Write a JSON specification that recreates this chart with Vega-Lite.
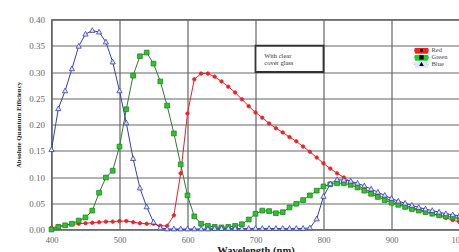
{
  "$schema": "https://vega.github.io/schema/vega-lite/v6.json",
  "width": 408,
  "height": 210,
  "autosize": {"type": "none"},
  "padding": {"left": 51.5, "top": 19.5, "right": 0, "bottom": 22.5},
  "background": "white",
  "config": {
    "view": {"stroke": "#444444", "strokeWidth": 1.2},
    "legend": {
      "labelFont": "Liberation Serif",
      "labelFontSize": 6.5,
      "labelColor": "#444444"
    }
  },
  "datasets": {
    "qe": [
      {"w":400,"s":"Red","v":0.003},{"w":410,"s":"Red","v":0.006},{"w":420,"s":"Red","v":0.008},{"w":430,"s":"Red","v":0.010},{"w":440,"s":"Red","v":0.011},{"w":450,"s":"Red","v":0.012},{"w":460,"s":"Red","v":0.013},{"w":470,"s":"Red","v":0.014},{"w":480,"s":"Red","v":0.015},{"w":490,"s":"Red","v":0.015},{"w":500,"s":"Red","v":0.016},{"w":510,"s":"Red","v":0.016},{"w":520,"s":"Red","v":0.014},{"w":530,"s":"Red","v":0.012},{"w":540,"s":"Red","v":0.011},{"w":550,"s":"Red","v":0.011},{"w":560,"s":"Red","v":0.007},{"w":570,"s":"Red","v":0.007},{"w":580,"s":"Red","v":0.027},{"w":590,"s":"Red","v":0.107},{"w":600,"s":"Red","v":0.221},{"w":610,"s":"Red","v":0.286},{"w":620,"s":"Red","v":0.297},{"w":630,"s":"Red","v":0.297},{"w":640,"s":"Red","v":0.291},{"w":650,"s":"Red","v":0.282},{"w":660,"s":"Red","v":0.272},{"w":670,"s":"Red","v":0.261},{"w":680,"s":"Red","v":0.248},{"w":690,"s":"Red","v":0.235},{"w":700,"s":"Red","v":0.223},{"w":710,"s":"Red","v":0.213},{"w":720,"s":"Red","v":0.202},{"w":730,"s":"Red","v":0.193},{"w":740,"s":"Red","v":0.185},{"w":750,"s":"Red","v":0.176},{"w":760,"s":"Red","v":0.168},{"w":770,"s":"Red","v":0.158},{"w":780,"s":"Red","v":0.148},{"w":790,"s":"Red","v":0.137},{"w":800,"s":"Red","v":0.126},{"w":810,"s":"Red","v":0.116},{"w":820,"s":"Red","v":0.107},{"w":830,"s":"Red","v":0.099},{"w":840,"s":"Red","v":0.091},{"w":850,"s":"Red","v":0.084},{"w":860,"s":"Red","v":0.077},{"w":870,"s":"Red","v":0.071},{"w":880,"s":"Red","v":0.065},{"w":890,"s":"Red","v":0.060},{"w":900,"s":"Red","v":0.055},{"w":910,"s":"Red","v":0.050},{"w":920,"s":"Red","v":0.046},{"w":930,"s":"Red","v":0.042},{"w":940,"s":"Red","v":0.038},{"w":950,"s":"Red","v":0.034},{"w":960,"s":"Red","v":0.030},{"w":970,"s":"Red","v":0.026},{"w":980,"s":"Red","v":0.022},{"w":990,"s":"Red","v":0.018},{"w":1000,"s":"Red","v":0.014},
      {"w":400,"s":"Green","v":0.000},{"w":410,"s":"Green","v":0.005},{"w":420,"s":"Green","v":0.008},{"w":430,"s":"Green","v":0.011},{"w":440,"s":"Green","v":0.017},{"w":450,"s":"Green","v":0.023},{"w":460,"s":"Green","v":0.036},{"w":470,"s":"Green","v":0.070},{"w":480,"s":"Green","v":0.099},{"w":490,"s":"Green","v":0.112},{"w":500,"s":"Green","v":0.158},{"w":510,"s":"Green","v":0.229},{"w":520,"s":"Green","v":0.293},{"w":530,"s":"Green","v":0.330},{"w":540,"s":"Green","v":0.337},{"w":550,"s":"Green","v":0.316},{"w":560,"s":"Green","v":0.282},{"w":570,"s":"Green","v":0.236},{"w":580,"s":"Green","v":0.183},{"w":590,"s":"Green","v":0.124},{"w":600,"s":"Green","v":0.065},{"w":610,"s":"Green","v":0.025},{"w":620,"s":"Green","v":0.011},{"w":630,"s":"Green","v":0.007},{"w":640,"s":"Green","v":0.005},{"w":650,"s":"Green","v":0.004},{"w":660,"s":"Green","v":0.005},{"w":670,"s":"Green","v":0.007},{"w":680,"s":"Green","v":0.010},{"w":690,"s":"Green","v":0.019},{"w":700,"s":"Green","v":0.030},{"w":710,"s":"Green","v":0.036},{"w":720,"s":"Green","v":0.035},{"w":730,"s":"Green","v":0.031},{"w":740,"s":"Green","v":0.033},{"w":750,"s":"Green","v":0.042},{"w":760,"s":"Green","v":0.049},{"w":770,"s":"Green","v":0.056},{"w":780,"s":"Green","v":0.065},{"w":790,"s":"Green","v":0.074},{"w":800,"s":"Green","v":0.082},{"w":810,"s":"Green","v":0.086},{"w":820,"s":"Green","v":0.088},{"w":830,"s":"Green","v":0.088},{"w":840,"s":"Green","v":0.085},{"w":850,"s":"Green","v":0.080},{"w":860,"s":"Green","v":0.074},{"w":870,"s":"Green","v":0.068},{"w":880,"s":"Green","v":0.062},{"w":890,"s":"Green","v":0.056},{"w":900,"s":"Green","v":0.051},{"w":910,"s":"Green","v":0.047},{"w":920,"s":"Green","v":0.043},{"w":930,"s":"Green","v":0.039},{"w":940,"s":"Green","v":0.036},{"w":950,"s":"Green","v":0.033},{"w":960,"s":"Green","v":0.030},{"w":970,"s":"Green","v":0.027},{"w":980,"s":"Green","v":0.025},{"w":990,"s":"Green","v":0.023},{"w":1000,"s":"Green","v":0.021},
      {"w":400,"s":"Blue","v":0.152},{"w":410,"s":"Blue","v":0.230},{"w":420,"s":"Blue","v":0.264},{"w":430,"s":"Blue","v":0.306},{"w":440,"s":"Blue","v":0.349},{"w":450,"s":"Blue","v":0.372},{"w":460,"s":"Blue","v":0.379},{"w":470,"s":"Blue","v":0.376},{"w":480,"s":"Blue","v":0.357},{"w":490,"s":"Blue","v":0.319},{"w":500,"s":"Blue","v":0.264},{"w":510,"s":"Blue","v":0.203},{"w":520,"s":"Blue","v":0.135},{"w":530,"s":"Blue","v":0.079},{"w":540,"s":"Blue","v":0.043},{"w":550,"s":"Blue","v":0.014},{"w":560,"s":"Blue","v":0.003},{"w":570,"s":"Blue","v":0.001},{"w":580,"s":"Blue","v":0.001},{"w":590,"s":"Blue","v":0.001},{"w":600,"s":"Blue","v":0.001},{"w":610,"s":"Blue","v":0.001},{"w":620,"s":"Blue","v":0.001},{"w":630,"s":"Blue","v":0.001},{"w":640,"s":"Blue","v":0.002},{"w":650,"s":"Blue","v":0.002},{"w":660,"s":"Blue","v":0.002},{"w":670,"s":"Blue","v":0.002},{"w":680,"s":"Blue","v":0.002},{"w":690,"s":"Blue","v":0.002},{"w":700,"s":"Blue","v":0.002},{"w":710,"s":"Blue","v":0.002},{"w":720,"s":"Blue","v":0.002},{"w":730,"s":"Blue","v":0.002},{"w":740,"s":"Blue","v":0.002},{"w":750,"s":"Blue","v":0.002},{"w":760,"s":"Blue","v":0.002},{"w":770,"s":"Blue","v":0.002},{"w":780,"s":"Blue","v":0.003},{"w":790,"s":"Blue","v":0.020},{"w":800,"s":"Blue","v":0.063},{"w":810,"s":"Blue","v":0.087},{"w":820,"s":"Blue","v":0.095},{"w":830,"s":"Blue","v":0.094},{"w":840,"s":"Blue","v":0.092},{"w":850,"s":"Blue","v":0.088},{"w":860,"s":"Blue","v":0.083},{"w":870,"s":"Blue","v":0.077},{"w":880,"s":"Blue","v":0.071},{"w":890,"s":"Blue","v":0.065},{"w":900,"s":"Blue","v":0.059},{"w":910,"s":"Blue","v":0.054},{"w":920,"s":"Blue","v":0.050},{"w":930,"s":"Blue","v":0.046},{"w":940,"s":"Blue","v":0.042},{"w":950,"s":"Blue","v":0.039},{"w":960,"s":"Blue","v":0.036},{"w":970,"s":"Blue","v":0.033},{"w":980,"s":"Blue","v":0.030},{"w":990,"s":"Blue","v":0.028},{"w":1000,"s":"Blue","v":0.026}
    ],
    "note": [
      {"w": 700, "w2": 800, "v": 0.30, "v2": 0.35, "tw": 713, "tv": 0.330, "label": "With clear\ncover glass"}
    ]
  },
  "encoding": {
    "x": {
      "field": "w",
      "type": "quantitative",
      "scale": {"domain": [400, 1000], "nice": false, "zero": false},
      "axis": {"values": [400, 500, 600, 700, 800, 900, 1000], "format": "d", "grid": true, "gridColor": "#666666", "gridOpacity": 1, "gridWidth": 1.2, "domain": false, "tickSize": 0, "labelFlush": false, "labelFont": "Liberation Serif", "labelFontSize": 8.5, "labelColor": "#666666", "labelPadding": 6, "title": "Wavelength (nm)", "titleFont": "Liberation Serif", "titleFontWeight": "bold", "titleColor": "#222222", "titleFontSize": 10.5, "titlePadding": 1}
    },
    "y": {
      "field": "v",
      "type": "quantitative",
      "scale": {"domain": [0, 0.4], "nice": false},
      "axis": {"values": [0, 0.05, 0.1, 0.15, 0.2, 0.25, 0.3, 0.35, 0.4], "format": ".2f", "grid": true, "gridColor": "#666666", "gridOpacity": 1, "gridWidth": 1.2, "domain": false, "tickSize": 0, "labelFlush": false, "labelFont": "Liberation Serif", "labelFontSize": 9, "labelColor": "#666666", "labelPadding": 7, "title": "Absolute Quantum Efficiency", "titleFont": "Liberation Serif", "titleFontWeight": "bold", "titleColor": "#222222", "titleFontSize": 6.8, "titlePadding": 7}
    }
  },
  "layer": [
    {
      "data": {"name": "note"},
      "mark": {"type": "rect", "fill": "white", "stroke": "#333333", "strokeWidth": 1.8},
      "encoding": {
        "x2": {"field": "w2"},
        "y2": {"field": "v2"}
      }
    },
    {
      "data": {"name": "note"},
      "mark": {"type": "text", "align": "left", "baseline": "middle", "fontSize": 6.5, "lineHeight": 6.5, "color": "#333333", "font": "Liberation Serif", "lineBreak": "\n"},
      "encoding": {
        "x": {"field": "tw", "type": "quantitative"},
        "y": {"field": "tv", "type": "quantitative"},
        "text": {"field": "label"}
      }
    },
    {
      "data": {"name": "qe"},
      "mark": {"type": "line", "strokeWidth": 1},
      "encoding": {
        "stroke": {
          "field": "s", "type": "nominal",
          "scale": {"domain": ["Red", "Green", "Blue"], "range": ["#e8202a", "#2f7a2f", "#3340b0"]},
          "legend": {"title": null, "orient": "none", "legendX": 362, "legendY": 28.5, "symbolType": "stroke", "symbolSize": 200, "symbolStrokeWidth": 1, "clipHeight": 4.7, "rowPadding": 0, "padding": 0, "labelOffset": 2}
        }
      }
    },
    {
      "data": {"name": "qe"},
      "mark": {"type": "point", "filled": true, "size": 250, "strokeWidth": 0.8, "opacity": 1},
      "encoding": {
        "stroke": {"field": "s", "type": "nominal", "legend": null},
        "color": {
          "field": "s", "type": "nominal", "sort": ["Red", "Green", "Blue"],
          "scale": {"range": ["#ee2222", "#22cc22", "#dde6ff"]},
          "legend": {"title": null, "orient": "none", "legendX": 362, "legendY": 28.5, "symbolSize": 200, "clipHeight": 4.7, "rowPadding": 0, "padding": 0, "labelOffset": 2, "labelOpacity": 0}
        },
        "shape": {
          "field": "s", "type": "nominal", "sort": ["Red", "Green", "Blue"],
          "scale": {"range": ["M-0.22,0A0.22,0.22 0 1,0 0.22,0A0.22,0.22 0 1,0 -0.22,0Z", "M-0.3,-0.3H0.3V0.3H-0.3Z", "M0,-0.36L0.33,0.24H-0.33Z"]},
          "legend": {"title": null, "orient": "none", "legendX": 362, "legendY": 28.5, "symbolSize": 200, "clipHeight": 4.7, "rowPadding": 0, "padding": 0, "labelOffset": 2, "labelOpacity": 0}
        }
      }
    }
  ]
}
